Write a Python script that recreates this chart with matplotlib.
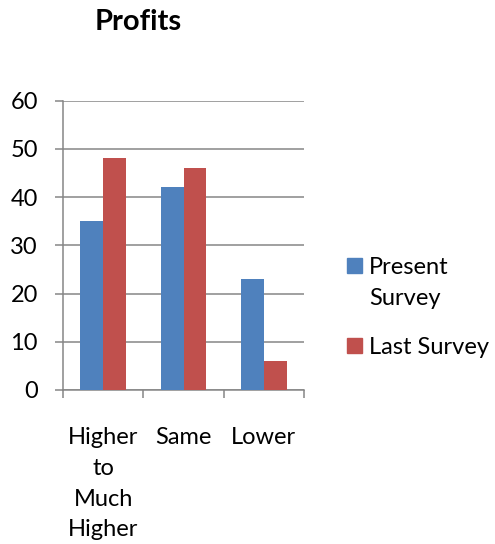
import matplotlib
matplotlib.use("Agg")
import matplotlib.pyplot as plt
from matplotlib.patches import Rectangle
import numpy as np

# survey results
categories = ["Higher\nto\nMuch\nHigher", "Same", "Lower"]
series_names = ["Present\nSurvey", "Last Survey"]
present_survey = [35, 42, 23]
last_survey = [48, 46, 6]
colors = ["#4F81BD", "#C0504D"]
y_ticks = [0, 10, 20, 30, 40, 50, 60]

plt.rcParams["font.family"] = ["Lato", "DejaVu Sans"]
W, H = 495, 544
fig = plt.figure(figsize=(W / 100, H / 100), dpi=100)
ax = fig.add_axes([63 / W, 1 - 390 / H, (304 - 63) / W, (390 - 100.5) / H])

x = np.arange(len(categories))
bw = 0.286
ax.bar(x - bw / 2, present_survey, bw, color=colors[0], zorder=3)
ax.bar(x + bw / 2, last_survey, bw, color=colors[1], zorder=3)

ax.set_xlim(-0.5, len(categories) - 0.5)
ax.set_ylim(0, 60)
ax.set_yticks(y_ticks)
ax.yaxis.grid(True, color="#868686", linewidth=1.1, zorder=0)

# category boundaries carry the tick marks, labels sit at centres
ax.set_xticks(np.arange(len(categories) + 1) - 0.5)
ax.set_xticklabels([])
ax.set_xticks(x, minor=True)
ax.set_xticklabels(categories, minor=True, fontsize=17, linespacing=1.56, va="top")
ax.tick_params(axis="x", which="minor", length=0, pad=27)
ax.tick_params(axis="x", which="major", length=6, width=1.1, color="#868686")
ax.tick_params(axis="y", length=6, width=1.1, color="#868686", labelsize=17, pad=12)

for s in ["top", "right"]:
    ax.spines[s].set_visible(False)
for s in ["left", "bottom"]:
    ax.spines[s].set_color("#868686")
    ax.spines[s].set_linewidth(1.1)

fig.text(138 / W, 1 - 30 / H, "Profits", fontsize=21, fontweight="bold",
         ha="center", va="baseline")

# legend
legend_rows = [266, 346]
for name, col, yc in zip(series_names, colors, legend_rows):
    fig.add_artist(Rectangle((347 / W, 1 - (yc + 7) / H), 15 / W, 15 / H,
                             transform=fig.transFigure, color=col))
    fig.text(369 / W, 1 - (yc - 9) / H, name, fontsize=17, ha="left", va="top",
             linespacing=1.6)

fig.savefig("out.png", dpi=100)
